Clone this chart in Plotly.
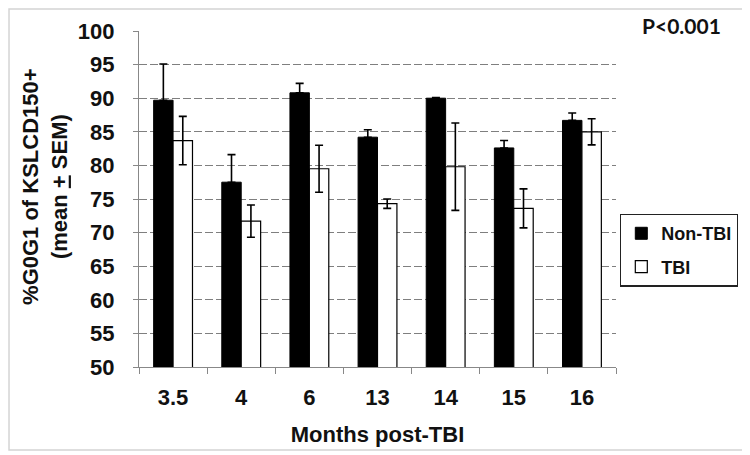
import plotly.graph_objects as go

months = ["3.5", "4", "6", "13", "14", "15", "16"]
non_tbi = [89.7, 77.5, 90.8, 84.2, 90.0, 82.6, 86.7]
non_tbi_sem = [5.4, 4.1, 1.4, 1.1, 0.1, 1.1, 1.1]
tbi = [83.7, 71.7, 79.5, 74.3, 79.8, 73.6, 85.0]
tbi_sem = [3.6, 2.4, 3.5, 0.7, 6.5, 2.9, 1.95]
y_ticks = [50, 55, 60, 65, 70, 75, 80, 85, 90, 95, 100]

FONT = "Liberation Sans, Arial, sans-serif"
TXT = "#111"

fig = go.Figure()
fig.add_trace(go.Bar(
    x=months, y=non_tbi, name="Non-TBI", legendgroup="g1",
    marker=dict(color="black", line=dict(color="black", width=1)),
    error_y=dict(type="data", array=non_tbi_sem, symmetric=False, arrayminus=[0]*7,
                 color="black", thickness=1.6, width=4),
))
fig.add_trace(go.Bar(
    x=months, y=tbi, name="TBI", legendgroup="g2",
    marker=dict(color="white", line=dict(color="black", width=1.2)),
    error_y=dict(type="data", array=tbi_sem, color="black", thickness=1.6, width=4),
))

fig.update_layout(
    width=742, height=447,
    margin=dict(l=131, r=134, t=23, b=88),
    paper_bgcolor="white", plot_bgcolor="white",
    barmode="group", bargap=0.43, bargroupgap=0,
    font=dict(family=FONT, color=TXT, size=22),
    showlegend=True,
    legend=dict(
        x=1.0084, xanchor="left", y=0.456, yanchor="top",
        bordercolor="#222", borderwidth=1.3, bgcolor="white",
        font=dict(family=FONT, size=18, weight="bold", color=TXT),
        tracegroupgap=7, itemwidth=30,
    ),
    xaxis=dict(
        type="category", showline=True, linecolor="#888", linewidth=1.3,
        ticks="outside", tickson="boundaries", ticklen=6, tickcolor="#888",
        tickfont=dict(family=FONT, size=22, weight="bold", color=TXT),
        ticklabelstandoff=10,
        title=dict(text="Months post-TBI", standoff=18,
                   font=dict(family=FONT, size=22, weight="bold", color=TXT)),
        showgrid=False, zeroline=False,
    ),
    yaxis=dict(
        range=[50, 100], tickvals=y_ticks, showline=True, linecolor="#888", linewidth=1.3,
        ticks="outside", ticklen=5, tickcolor="#888",
        tickfont=dict(family=FONT, size=22, weight="bold", color=TXT),
        ticklabelstandoff=14,
        showgrid=True, gridcolor="#7f7f7f", gridwidth=1, griddash="8px,3px",
        zeroline=False,
    ),
    annotations=[
        dict(text="%G0G1 of KSLCD150+<br>(mean <u>+</u> SEM)", textangle=-90,
             xref="paper", yref="paper", x=-0.197, y=0.536, xanchor="center", yanchor="middle",
             showarrow=False, font=dict(family=FONT, size=22, weight="bold", color=TXT)),
        dict(text="P<0.001", xref="paper", yref="paper", x=1.138, y=1.015,
             xanchor="center", yanchor="middle", showarrow=False,
             font=dict(family="Lato, Open Sans, sans-serif", size=21, weight="bold", color=TXT)),
    ],
    shapes=[
        dict(type="rect", xref="paper", yref="paper", x0=-0.2725, x1=1.2704, y0=-0.247, y1=1.0655,
             line=dict(color="#d4d4d4", width=1.5), layer="below"),
    ],
)

fig.write_html("out.html")
